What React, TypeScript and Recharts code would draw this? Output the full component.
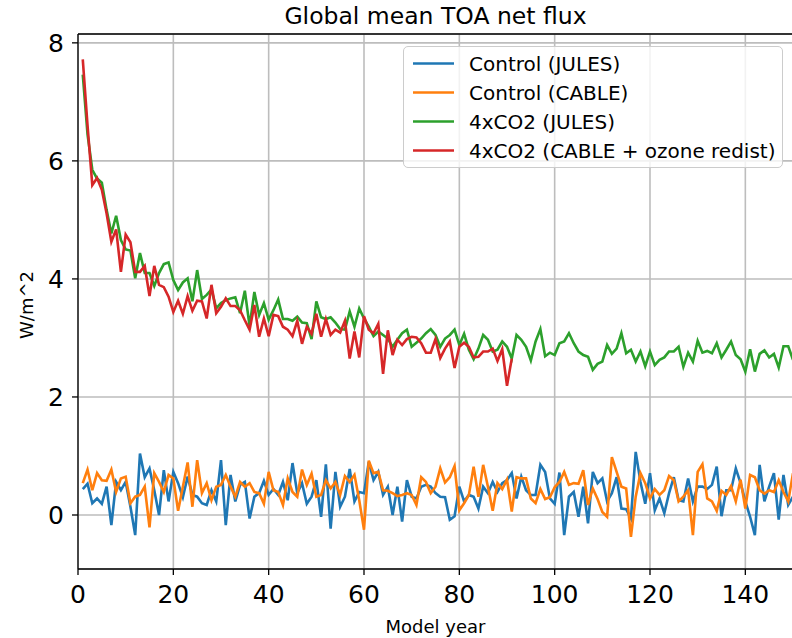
import React from 'react';
import { LineChart, Line, XAxis, YAxis, CartesianGrid, Legend, ReferenceLine } from 'recharts';

// Model years 1..150
const years: number[] = Array.from({ length: 150 }, (_, i) => i + 1);

const controlJules: number[] = [
  0.44, 0.53, 0.20, 0.28, 0.19, 0.48, -0.17, 0.56, 0.42, 0.56,
  0.14, -0.34, 1.04, 0.64, 0.79, 0.42, 0.0, 0.76, 0.23, 0.73,
  0.54, 0.30, 0.65, 0.34, 0.31, 0.20, 0.17, 0.42, 0.23, 0.93,
  -0.17, 0.68, 0.23, 0.51, 0.56, -0.06, 0.31, 0.37, 0.58, 0.34,
  0.44, 0.34, 0.56, 0.25, 0.88, 0.37, 0.54, 0.19, 0.31, 0.59,
  -0.03, 0.86, -0.23, 0.73, 0.14, 0.31, 0.78, 0.23, 0.39, 0.37,
  0.90, 0.59, 0.73, 0.34, 0.48, 0.0, 0.48, -0.11, 0.59, 0.31,
  0.28, 0.48, 0.51, 0.48, 0.37, 0.31, 0.30, -0.08, -0.02, 0.48,
  0.23, 0.34, 0.31, 0.11, 0.48, 0.37, 0.56, 0.39, 0.54, 0.59,
  0.71, 0.28, 0.65, 0.42, 0.34, 0.34, 0.85, 0.73, 0.28, 0.19,
  0.72, -0.34, 0.31, 0.39, -0.03, 0.48, -0.14, 0.73, 0.54, 0.62,
  0.23, 0.37, 0.64, 0.11, 0.10, -0.06, 1.07, 0.56, 0.19, 0.71,
  0.08, 0.28, 0.03, 0.37, 0.64, 0.25, 0.23, 0.62, 0.23, 0.48,
  0.48, 0.44, 0.51, 0.82, -0.02, 0.42, 0.42, 0.79, 0.54, 0.23,
  -0.03, -0.34, 0.85, 0.23, 0.48, 0.71, -0.08, 0.68, 0.17, 0.31,
];

const controlCable: number[] = [
  0.54, 0.77, 0.42, 0.71, 0.59, 0.58, 0.77, 0.39, 0.62, 0.65,
  0.20, 0.31, 0.34, 0.48, -0.21, 0.71, 0.56, 0.39, 0.68, 0.62,
  0.07, 0.48, 0.89, 0.14, 0.93, 0.37, 0.54, 0.25, 0.48, 0.51,
  0.68, 0.48, 0.31, 0.56, 0.48, 0.54, 0.39, 0.37, 0.19, 0.73,
  0.42, 0.39, 0.17, 0.62, 0.39, 0.31, 0.77, 0.51, 0.70, 0.31,
  0.34, 0.59, 0.45, 0.56, 0.34, 0.66, 0.56, 0.68, 0.25, -0.25,
  0.92, 0.71, 0.73, 0.42, 0.41, 0.37, 0.32, 0.34, 0.37, 0.34,
  0.17, 0.64, 0.56, 0.37, 0.48, 0.79, 0.55, 0.64, 0.83, 0.08,
  0.20, 0.34, 0.82, 0.31, 0.85, 0.48, 0.07, 0.54, 0.44, 0.60,
  0.06, 0.64, 0.62, 0.62, 0.28, 0.20, 0.44, 0.27, 0.30, 0.47,
  0.56, 0.73, 0.51, 0.54, 0.53, 0.76, 0.17, 0.45, 0.27, 0.05,
  -0.03, 0.98, 0.73, 0.48, 0.45, -0.37, 0.31, 0.71, 0.54, 0.28,
  0.44, 0.34, 0.42, 0.66, 0.59, 0.23, 0.31, 0.42, -0.34, 0.73,
  0.86, 0.28, 0.23, 0.07, 0.41, 0.34, 0.49, 0.23, 0.60, 0.11,
  0.68, 0.64, 0.42, 0.36, 0.42, 0.39, 0.59, 0.39, 0.23, 0.71,
];

const co2Jules: number[] = [
  7.46, 6.45, 5.85, 5.70, 5.63, 5.17, 4.77, 5.07, 4.66, 4.50,
  4.48, 4.01, 4.44, 4.10, 4.10, 3.88, 4.10, 4.25, 4.28, 3.98,
  3.81, 3.94, 4.01, 3.62, 4.15, 3.66, 3.73, 3.82, 3.50, 3.59,
  3.64, 3.67, 3.69, 3.42, 3.80, 3.20, 3.78, 3.39, 3.59, 3.31,
  3.47, 3.65, 3.32, 3.32, 3.29, 3.36, 3.26, 3.25, 2.98, 3.62,
  3.35, 3.32, 3.35, 3.26, 3.15, 3.14, 3.45, 3.19, 3.50, 3.33,
  3.19, 3.03, 3.11, 3.05, 2.99, 2.85, 2.97, 3.08, 3.14, 2.85,
  2.92, 2.99, 3.08, 3.15, 3.05, 2.85, 2.99, 3.05, 3.14, 2.88,
  3.07, 2.80, 2.64, 2.82, 3.05, 2.97, 2.77, 2.80, 2.94, 2.85,
  2.65, 3.05, 2.97, 2.85, 2.62, 2.94, 3.15, 2.69, 2.75, 2.71,
  2.91, 2.94, 3.08, 2.91, 2.77, 2.71, 2.68, 2.46, 2.56, 2.60,
  2.88, 2.73, 2.82, 3.08, 2.74, 2.80, 2.60, 2.77, 2.52, 2.77,
  2.54, 2.63, 2.67, 2.77, 2.77, 2.85, 2.51, 2.75, 2.60, 2.95,
  2.75, 2.78, 2.74, 2.91, 2.67, 2.80, 2.94, 2.71, 2.64, 2.43,
  2.81, 2.43, 2.73, 2.79, 2.67, 2.73, 2.50, 2.86, 2.86, 2.63,
];

// 4xCO2 CABLE run only covers the first 91 years
const co2Cable: number[] = [
  7.72, 6.60, 5.59, 5.71, 5.51, 5.11, 4.63, 4.84, 4.12, 4.75,
  4.62, 4.12, 4.12, 4.22, 3.71, 4.22, 3.90, 3.86, 3.70, 3.44,
  3.63, 3.41, 3.71, 3.46, 3.63, 3.62, 3.33, 3.90, 3.42, 3.53,
  3.67, 3.54, 3.54, 3.47, 3.30, 3.14, 3.56, 3.02, 3.33, 3.03,
  3.39, 3.37, 3.19, 3.14, 3.03, 3.29, 2.90, 3.19, 3.07, 3.41,
  3.02, 3.32, 3.05, 3.14, 3.09, 3.29, 2.65, 3.11, 2.67, 3.37,
  3.14, 3.08, 3.24, 2.39, 3.13, 2.71, 2.97, 2.88, 2.98, 3.02,
  3.01, 2.91, 2.75, 2.75, 2.98, 2.66, 2.82, 2.94, 2.49, 2.85,
  2.92, 2.85, 2.67, 2.68, 2.77, 2.77, 2.82, 2.61, 2.81, 2.19,
  2.65,
];

const xTicks = [0, 20, 40, 60, 80, 100, 120, 140];
const yTicks = [0, 2, 4, 6, 8];
const Y_MIN = -0.915;
const Y_MAX = 8.15;

const series = [
  { key: 'ctlJules', name: 'Control (JULES)', color: '#1f77b4' },
  { key: 'ctlCable', name: 'Control (CABLE)', color: '#ff7f0e' },
  { key: 'co2Jules', name: '4xCO2 (JULES)', color: '#2ca02c' },
  { key: 'co2Cable', name: '4xCO2 (CABLE + ozone redist)', color: '#d62728' },
];

const data = years.map((year, i) => ({
  year,
  ctlJules: controlJules[i],
  ctlCable: controlCable[i],
  co2Jules: co2Jules[i],
  co2Cable: i < co2Cable.length ? co2Cable[i] : undefined,
}));

const FONT = '"DejaVu Sans", sans-serif';

const LegendBox = () => (
  <div
    style={{
      width: 380,
      height: 122,
      boxSizing: 'border-box',
      border: '1.5px solid #cccccc',
      borderRadius: 5,
      background: 'rgba(255,255,255,0.8)',
      fontFamily: FONT,
      fontSize: 20,
      color: '#000',
      paddingTop: 2,
    }}
  >
    {series.map((s) => (
      <div key={s.key} style={{ height: 29, display: 'flex', alignItems: 'center' }}>
        <svg width={62} height={29} style={{ flex: 'none' }}>
          <line x1={9} x2={50} y1={14.5} y2={14.5} stroke={s.color} strokeWidth={2.6} />
        </svg>
        <span style={{ marginLeft: 3, whiteSpace: 'nowrap' }}>{s.name}</span>
      </div>
    ))}
  </div>
);

export default function App() {
  return (
    <div
      style={{
        position: 'absolute',
        left: 0,
        top: 0,
        width: 792,
        height: 638,
        overflow: 'hidden',
        background: '#fff',
      }}
    >
      <LineChart
        width={800}
        height={638}
        data={data}
        margin={{ top: 34, right: 7, left: 0, bottom: 0 }}
        style={{ fontFamily: FONT }}
      >
        <CartesianGrid stroke="#bdbdbd" strokeWidth={1.6} />
        <XAxis
          dataKey="year"
          type="number"
          domain={[0, 150]}
          ticks={xTicks}
          allowDataOverflow
          height={69}
          tickSize={6}
          tickMargin={10}
          tick={{ fontSize: 25, fill: '#000', fontFamily: FONT }}
          stroke="#000"
          strokeWidth={1.3}
        />
        <YAxis
          type="number"
          domain={[Y_MIN, Y_MAX]}
          ticks={yTicks}
          allowDataOverflow
          width={78}
          tickSize={6}
          tickMargin={8}
          tick={{ fontSize: 25, fill: '#000', fontFamily: FONT }}
          stroke="#000"
          strokeWidth={1.3}
        />
        <ReferenceLine y={Y_MAX} stroke="#000" strokeWidth={1.3} />
        <ReferenceLine x={150} stroke="#000" strokeWidth={1.3} />
        {series.map((s) => (
          <Line
            key={s.key}
            dataKey={s.key}
            name={s.name}
            type="linear"
            stroke={s.color}
            strokeWidth={2.6}
            dot={false}
            isAnimationActive={false}
          />
        ))}
        <Legend
          layout="vertical"
          align="center"
          verticalAlign="middle"
          content={() => <LegendBox />}
          wrapperStyle={{ position: 'absolute', left: 403, top: 46, width: 380, height: 122 }}
        />
      </LineChart>
      <svg
        width={792}
        height={638}
        style={{ position: 'absolute', left: 0, top: 0, pointerEvents: 'none' }}
      >
        <text x={435.5} y={24} textAnchor="middle" fontSize={23.5} fontFamily={FONT} fill="#000">
          Global mean TOA net flux
        </text>
        <text x={435.5} y={633} textAnchor="middle" fontSize={18} fontFamily={FONT} fill="#000">
          Model year
        </text>
        <text
          x={0}
          y={0}
          transform="translate(33,305) rotate(-90)"
          textAnchor="middle"
          fontSize={18}
          fontFamily={FONT}
          fill="#000"
        >
          W/m^2
        </text>
      </svg>
    </div>
  );
}
